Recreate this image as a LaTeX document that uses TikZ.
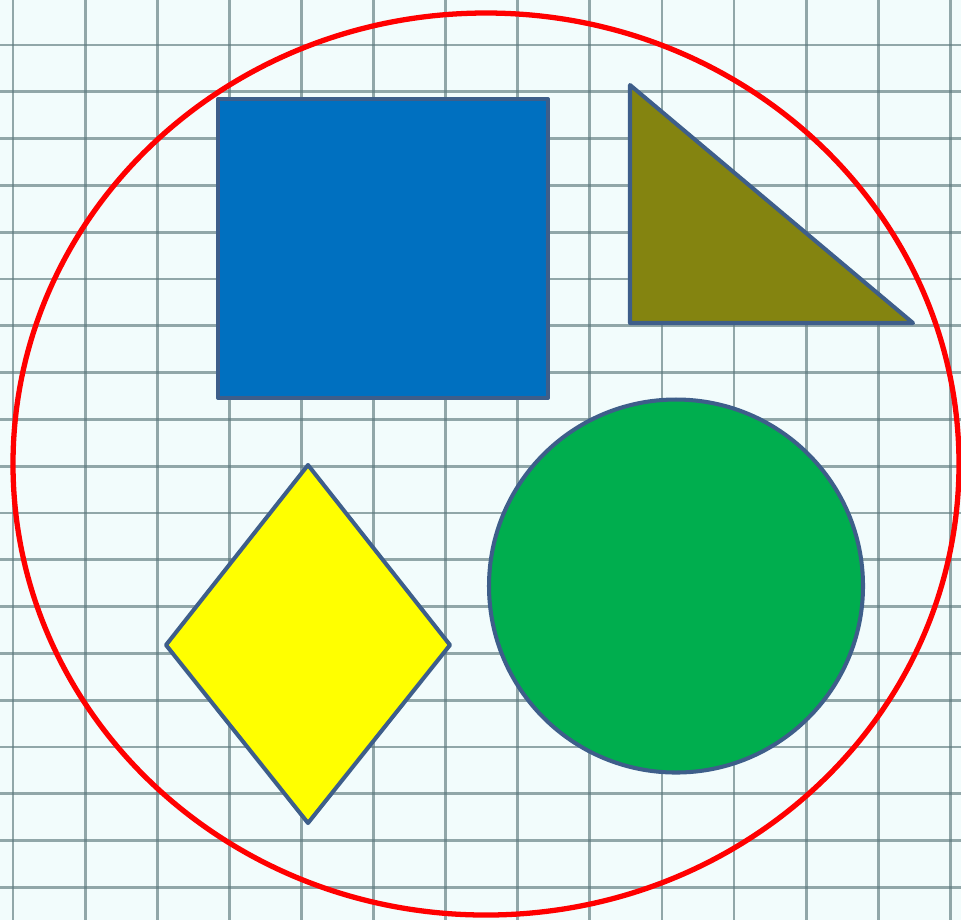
\documentclass[tikz,border=0pt]{standalone}
\usetikzlibrary{shapes.geometric}
\definecolor{paper}{HTML}{F2FCFC}
\definecolor{gridc}{HTML}{5E7A7E}
\definecolor{edgec}{HTML}{3E5E8A}
\definecolor{sqblue}{HTML}{0070C0}
\definecolor{olive2}{HTML}{848410}
\definecolor{green2}{HTML}{00AE4E}
\definecolor{red2}{HTML}{FF0000}
\definecolor{yellow2}{HTML}{FFFF00}
\tikzset{
  gridline/.style={draw=gridc, line width=0.8pt, opacity=0.65},
  shapeedge/.style={draw=edgec, line width=1.15pt, line join=round},
  outerring/.style={draw=red2, line width=1.5pt},
}
\begin{document}
\begin{tikzpicture}[x=0.01cm,y=-0.01cm]
\useasboundingbox (0,0) rectangle (961,920);
\fill[paper] (0,0) rectangle (961,920);
% grid
\foreach \i in {0,...,13} {
  \draw[gridline] ({13+72.1*\i},0) -- ({13+72.1*\i},920);
}
\foreach \j in {0,...,18} {
  \draw[gridline] (0,{45+46.8*\j}) -- (961,{45+46.8*\j});
}
% outer red ellipse
\draw[outerring] (486,464) ellipse [x radius=473, y radius=451];
% blue square
\draw[shapeedge, fill=sqblue] (218,99) rectangle (548,398);
% olive triangle
\coordinate (t1) at (630,85);
\coordinate (t2) at (630,323);
\coordinate (t3) at (913,323);
\draw[shapeedge, fill=olive2] (t1) -- (t2) -- (t3) -- cycle;
% yellow diamond
\coordinate (d1) at (308,465);
\coordinate (d2) at (450,645);
\coordinate (d3) at (308,823);
\coordinate (d4) at (166,645);
\draw[shapeedge, fill=yellow2] (d1) -- (d2) -- (d3) -- (d4) -- cycle;
% green circle
\draw[shapeedge, fill=green2] (676,586) ellipse [x radius=187, y radius=186.5];
\end{tikzpicture}
\end{document}
